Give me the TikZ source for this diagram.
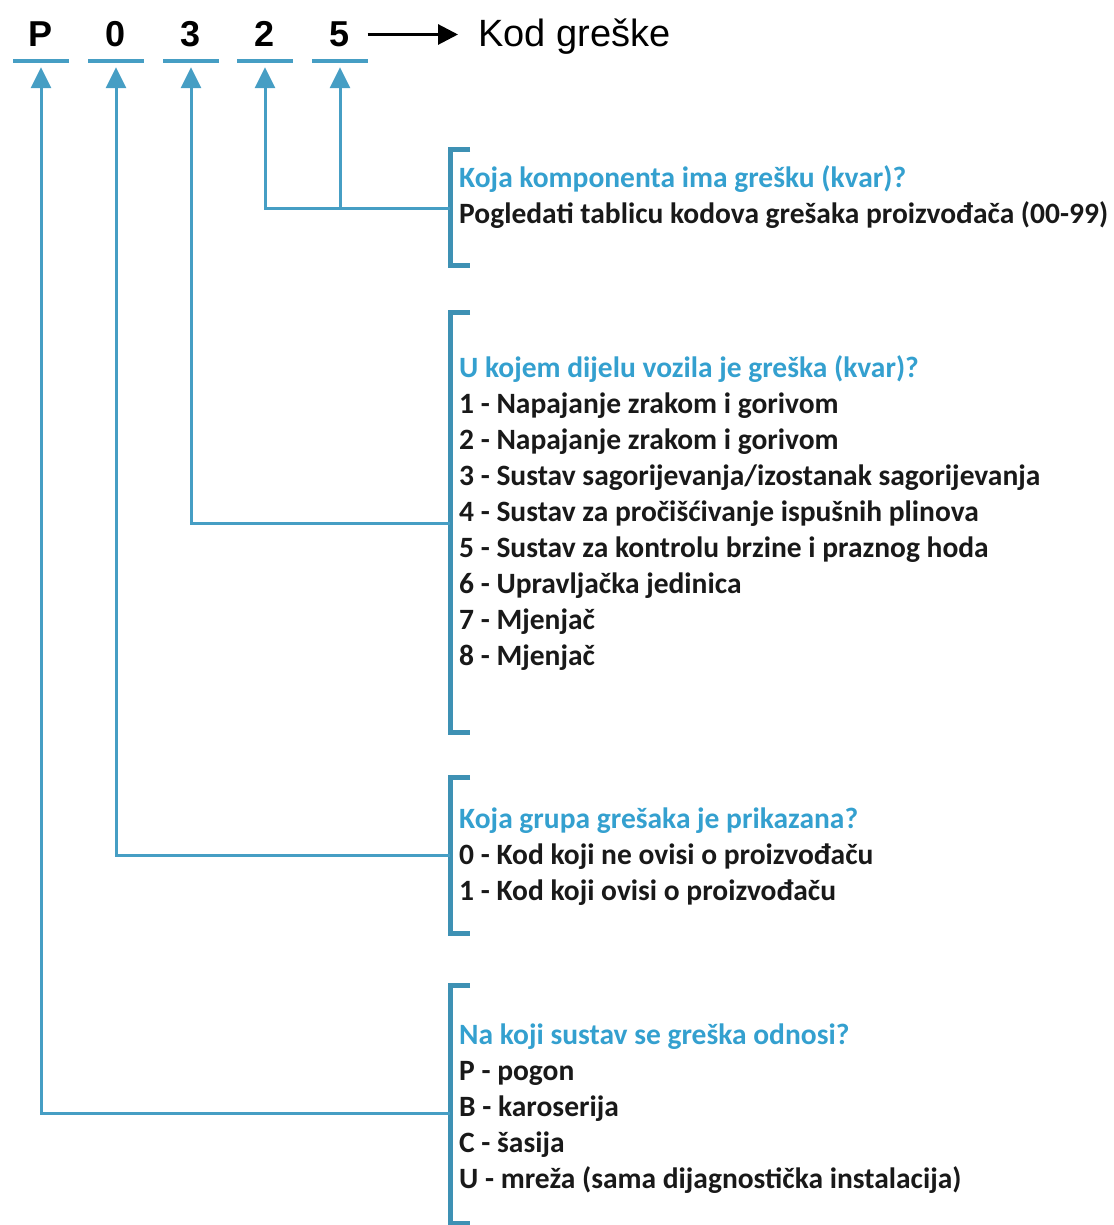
\documentclass[tikz,border=0pt]{standalone}
\usepackage{fontspec}
\setmainfont{Carlito}
\newfontfamily\arialfont{Liberation Sans}
\usetikzlibrary{arrows.meta}

\definecolor{codeline}{RGB}{70,158,196}
\definecolor{codebracket}{RGB}{62,145,180}
\definecolor{codehead}{RGB}{52,160,207}

\tikzset{
  digit/.style={font=\arialfont\bfseries\fontsize{36}{36}\selectfont, anchor=base,
    text height=25pt, text depth=0pt, inner xsep=0pt, inner ysep=14pt, minimum width=55pt},
  kodtxt/.style={font=\arialfont\fontsize{38}{38}\selectfont, anchor=base west,
    text height=25pt, text depth=0pt, inner xsep=0pt, inner ysep=14pt},
  uline/.style={codeline, line width=4pt},
  conn/.style={codeline, line width=3pt, {Triangle[length=21pt,width=20pt]}-, shorten <=6pt},
  brk/.style={codebracket, line width=5pt},
  head/.style={font=\bfseries\fontsize{29.5}{29.5}\selectfont, text=codehead, anchor=base west, inner sep=0pt},
  item/.style={font=\bfseries\fontsize{29.5}{29.5}\selectfont, text=black!90, anchor=base west, inner sep=0pt},
}

\begin{document}
\begin{tikzpicture}[x=1pt,y=-1pt]
\useasboundingbox (0,0) rectangle (1113,1225);

% the code
\node[digit] (dP) at (41,47) {P};
\node[digit] (d0) at (116,47) {0};
\node[digit] (d3) at (191,47) {3};
\node[digit] (d2) at (265,47) {2};
\node[digit] (d5) at (340,47) {5};
\foreach \d in {dP,d0,d3,d2,d5}
  \draw[uline] (\d.south west) -- (\d.south east);
\node[kodtxt] (kod) at (478,47) {Kod greške};
\draw[line width=3pt, -{Triangle[length=20pt,width=20pt]}, shorten >=20pt] (d5) -- (kod);

% brackets
\foreach \top/\bot in {150/265, 312/732, 777/933, 985/1223}
  \draw[brk] (470,\top) -| (450,\bot) -- (470,\bot);
\coordinate (b1) at (450,208);
\coordinate (b2) at (450,523);
\coordinate (b3) at (450,855);
\coordinate (b4) at (450,1113);

% connectors
\draw[conn] (d2.south) |- (b1);
\draw[conn] (d5.south) |- (b1);
\draw[conn] (d3.south) |- (b2);
\draw[conn] (d0.south) |- (b3);
\draw[conn] (dP.south) |- (b4);

% texts
\node[head] (h1) at (459,187) {Koja komponenta ima grešku (kvar)?};
\node[item] (t1-1) at (459,223) {Pogledati tablicu kodova grešaka proizvođača (00-99)};

\node[head] (h2) at (459,377) {U kojem dijelu vozila je greška (kvar)?};
\foreach \txt [count=\i] in {1 - Napajanje zrakom i gorivom, 2 - Napajanje zrakom i gorivom,
    3 - Sustav sagorijevanja/izostanak sagorijevanja, 4 - Sustav za pročišćivanje ispušnih plinova,
    5 - Sustav za kontrolu brzine i praznog hoda, 6 - Upravljačka jedinica, 7 - Mjenjač, 8 - Mjenjač}
  \node[item] (t2-\i) at (459,377+36*\i) {\txt};

\node[head] (h3) at (459,828) {Koja grupa grešaka je prikazana?};
\foreach \txt [count=\i] in {0 - Kod koji ne ovisi o proizvođaču, 1 - Kod koji ovisi o proizvođaču}
  \node[item] (t3-\i) at (459,828+36*\i) {\txt};

\node[head] (h4) at (459,1044) {Na koji sustav se greška odnosi?};
\foreach \txt [count=\i] in {P - pogon, B - karoserija, C - šasija, U - mreža (sama dijagnostička instalacija)}
  \node[item] (t4-\i) at (459,1044+36*\i) {\txt};
\end{tikzpicture}
\end{document}
